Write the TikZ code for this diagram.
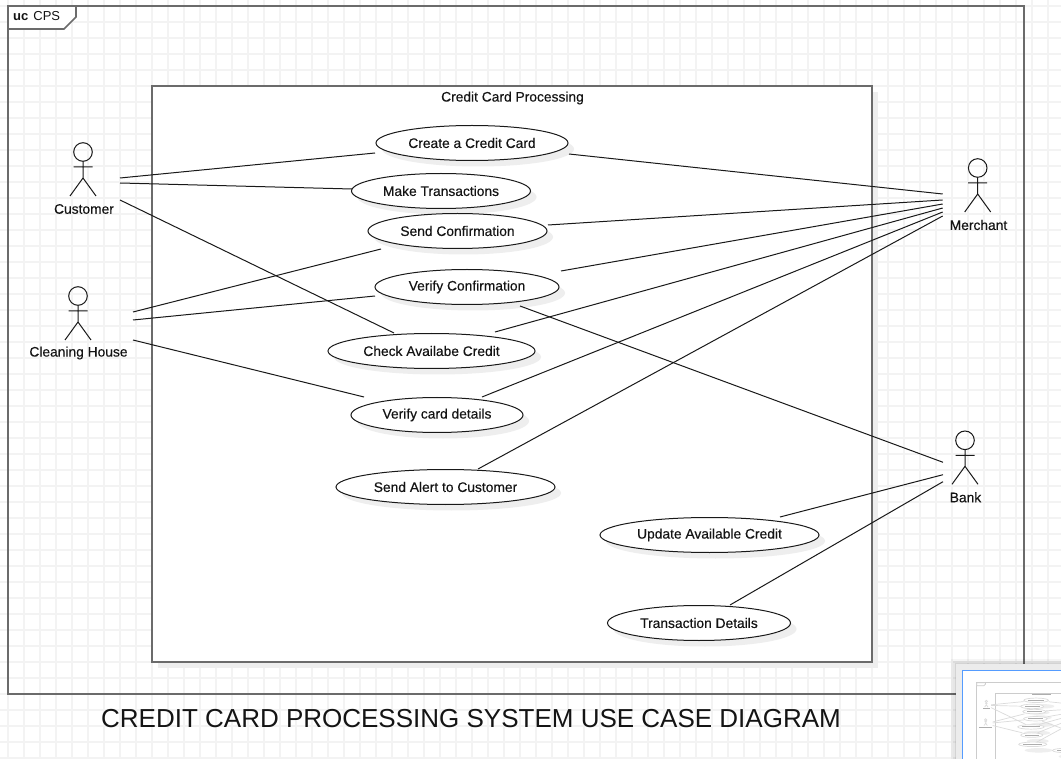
\documentclass[tikz,border=0pt]{standalone}
\usepackage{fontspec}
\setmainfont{Liberation Sans}
\newfontfamily\labelfont[FakeBold=0.3]{Liberation Sans}
\usetikzlibrary{shapes.geometric,shadows}
\definecolor{gridgray}{HTML}{F3F3F3}
\definecolor{shadowgray}{HTML}{EEEEEE}
\definecolor{panelgray}{HTML}{ECECEC}
\definecolor{panelblue}{HTML}{559CFF}
\colorlet{boxink}{black!58}
\colorlet{lineink}{black!90}
\colorlet{textink}{black!92}
\tikzset{
  gridline/.style={gridgray,line width=1.6pt},
  framebox/.style={draw=boxink,line width=1.6pt},
  assoc/.style={draw=lineink,line width=1pt},
  usecase/.style={ellipse,draw=lineink,fill=white,line width=1pt,outer sep=0pt,inner sep=0pt,minimum height=35pt,text=textink,font=\labelfont\fontsize{13.8}{15}\selectfont,drop shadow={shadow xshift=6pt,shadow yshift=-6pt,fill=shadowgray,opacity=1}},
  actortext/.style={text=textink,inner sep=0pt,font=\labelfont\fontsize{13.8}{15}\selectfont},
  actor/.pic={
    \draw[assoc] (0,-26) circle[radius=9.3];
    \draw[assoc] (0,-16.7) -- (0,0) (-9.5,-11) -- (9.5,-11) (-13,18) -- (0,0) -- (13,18);
  }
}
\newcommand{\casetext}[2]{\raisebox{-2pt}{#2}}
% every use case: name/x/y/width/text width/text
\newcommand{\usecaselist}{create/472/143/192/126/Create a Credit Card,make/441/191/179/117/Make Transactions,sendconf/457.5/231/179/117/Send Confirmation,verifyconf/467/287/184/120/Verify Confirmation,check/431.5/351/207/137/Check Availabe Credit,verifycard/437/415/172/111/Verify card details,alert/445.5/487/219/145/Send Alert to Customer,update/709.5/535/219/146/Update Available Credit,transaction/699/623/183/118/Transaction Details}
\newcommand{\actorlist}{customer/83/178/84/60/Customer,cleaning/78/322/78.5/98/Cleaning House,merchant/977.7/194/978.5/58/Merchant,bank/965/466.3/965.5/32/Bank}
\newcommand{\cpsdiagram}{
  \draw[framebox] (8,6) rectangle (1024,694);
  \draw[framebox,fill=white] (8,6) -- (76,6) -- (76,17) -- (64,29) -- (8,29) -- cycle;
  \node[framebox,draw=none,fill=white,outer sep=0pt,drop shadow={shadow xshift=6pt,shadow yshift=-6pt,fill=shadowgray,opacity=1},minimum width=720pt,minimum height=576pt,inner sep=0pt] (ccpbox) at (512,374) {};
  \draw[framebox] (ccpbox.north west) rectangle (ccpbox.south east);
  \node[actortext] (ccptitle) at (512.5,98) {\casetext{144}{Credit Card Processing}};
  \foreach \name/\x/\y/\w/\tw/\txt in \usecaselist {
    \node[usecase,minimum width=\w pt] (\name) at (\x,\y) {\casetext{\tw}{\txt}};
  }
  \foreach \name/\x/\y/\lx/\tw/\txt in \actorlist {
    \coordinate (\name) at (\x,\y);
    \pic at (\name) {actor};
    \node[actortext] (\name text) at (\lx,\y+31) {\casetext{\tw}{\txt}};
  }
  \foreach \from/\fx/\fy/\to/\tx/\ty in {
    customer/37/0/create/-97/10, customer/37/5/make/-89/-2, customer/37/22/check/-37.5/-18,
    cleaning/55/-10/sendconf/-76.5/18, cleaning/55/-2/verifyconf/-92/9, cleaning/55/18/verifycard/-73/-18,
    merchant/-35/0/create/97/11, merchant/-35/6/sendconf/90.5/-6, merchant/-35/10/verifyconf/94/-16,
    merchant/-35/14/check/63.5/-19, merchant/-35/18/verifycard/45/-18, merchant/-35/22/alert/32.5/-18,
    bank/-22/-4/verifyconf/53/19, bank/-22/8.4/update/70.5/-18, bank/-22/15.4/transaction/31/-18} {
    \draw[assoc] ([shift={(\fx,\fy)}]\from.center) -- ([shift={(\tx,\ty)}]\to.center);
  }
}
\begin{document}
\begin{tikzpicture}[x=1pt,y=-1pt]
  \useasboundingbox (0,0) rectangle (1061,759);
  \clip (0,0) rectangle (1061,759);
  \fill[white] (0,0) rectangle (1061,759);
  \foreach \gx in {8,24,...,1056} \draw[gridline] (\gx,0) -- (\gx,759);
  \foreach \gy in {6,22,...,758} \draw[gridline] (0,\gy) -- (1061,\gy);
  \cpsdiagram
  \node[text=textink,inner sep=0pt,anchor=west,font=\fontsize{13}{16}\selectfont] (frametag) at (13,16.5) {\textbf{uc}\hspace{5pt}CPS};
  \node[text=textink,inner sep=0pt,font=\fontsize{26}{29}\selectfont] (title) at (471,718.5) {CREDIT CARD PROCESSING SYSTEM USE CASE DIAGRAM};
  % overview panel
  \foreach \off/\shade in {5/.04,3/.06,1/.08} \fill[black,opacity=\shade] (956-\off,664-\off) rectangle (1061,759);
  \fill[panelgray] (956,664) rectangle (1061,759);
  \draw[panelblue,fill=white,line width=1.6pt] (962.5,670.5) rectangle (1075,775);
  \begin{scope}[shift={(975.7,682)},scale=.128,transform shape]
    \colorlet{boxink}{black!20}
    \colorlet{lineink}{black!14}
    \colorlet{textink}{black!32}
    \renewcommand{\casetext}[2]{\rule{#1pt}{7pt}}
    \tikzset{framebox/.append style={line width=.8pt},assoc/.append style={line width=.7pt},usecase/.append style={line width=.7pt}}
    \cpsdiagram
  \end{scope}
\end{tikzpicture}
\end{document}
